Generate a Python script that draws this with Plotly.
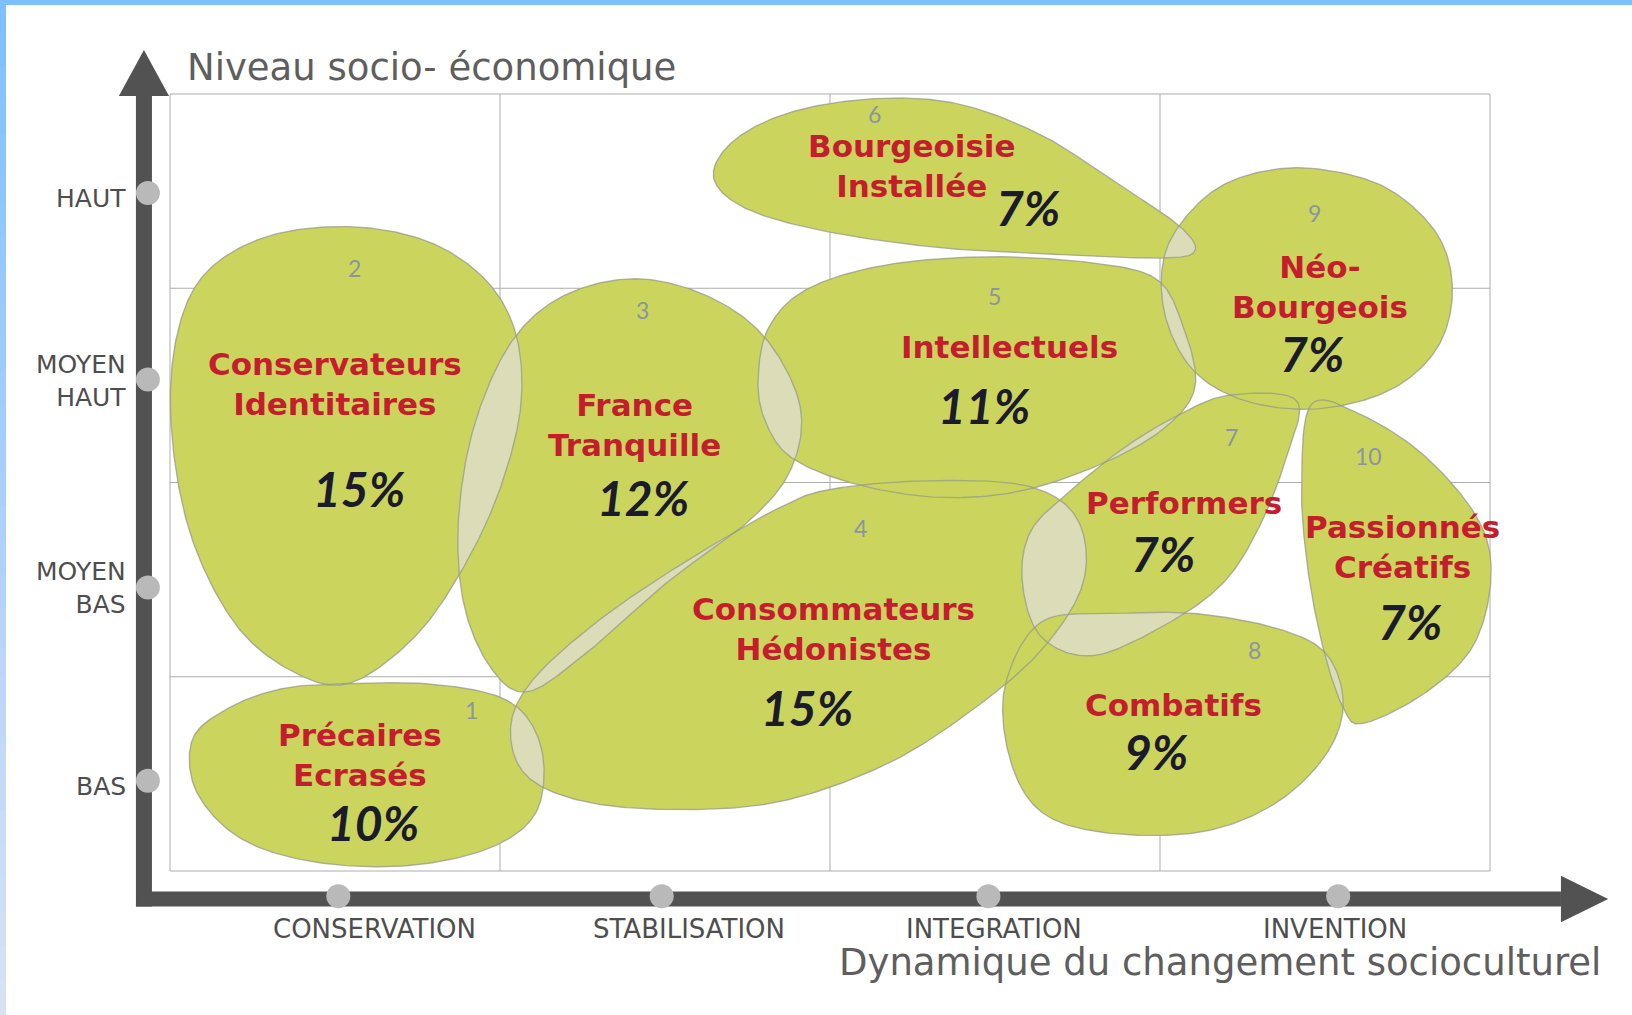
import numpy as np
import plotly.graph_objects as go

# ---------------- data ----------------
segment_ids = [1, 2, 3, 4, 5, 6, 7, 8, 9, 10]
segment_names = [
    "Précaires<br>Ecrasés",
    "Conservateurs<br>Identitaires",
    "France<br>Tranquille",
    "Consommateurs<br>Hédonistes",
    "Intellectuels",
    "Bourgeoisie<br>Installée",
    "Performers",
    "Combatifs",
    "Néo-<br>Bourgeois",
    "Passionnés<br>Créatifs",
]
segment_shares = [10, 15, 12, 15, 11, 7, 7, 9, 7, 7]
x_categories = ["CONSERVATION", "STABILISATION", "INTEGRATION", "INVENTION"]
y_categories = ["BAS", "MOYEN<br>BAS", "MOYEN<br>HAUT", "HAUT"]
x_title = "Dynamique du changement socioculturel"
y_title = "Niveau socio- économique"

# ---------------- geometry (grid units: 4 x 4 cells) ----------------
OUTLINES = {
    1: [(0.527, 0.964), (0.811, 0.959), (1.032, 0.868), (1.126, 0.627), (1.110, 0.305), (0.968, 0.118),
        (0.716, 0.027), (0.432, 0.048), (0.211, 0.171), (0.079, 0.413), (0.069, 0.681), (0.180, 0.841),
        (0.338, 0.938)],
    2: [(0.543, 3.317), (0.779, 3.242), (0.953, 3.049), (1.047, 2.771), (1.063, 2.396), (1.000, 1.967),
        (0.890, 1.565), (0.748, 1.217), (0.558, 0.975), (0.401, 1.002), (0.211, 1.243), (0.069, 1.699),
        (0.006, 2.235), (0.016, 2.717), (0.101, 3.065), (0.290, 3.264)],
    3: [(1.410, 3.049), (1.631, 2.958), (1.804, 2.744), (1.909, 2.395), (1.883, 2.074), (1.757, 1.806),
        (1.505, 1.484), (1.252, 1.109), (1.079, 0.922), (0.968, 1.056), (0.890, 1.377), (0.874, 1.806),
        (0.921, 2.288), (1.032, 2.717), (1.189, 2.958)],
    4: [(1.835, 1.860), (2.009, 1.967), (2.325, 2.010), (2.609, 1.977), (2.751, 1.806), (2.767, 1.484),
        (2.640, 1.136), (2.420, 0.815), (2.167, 0.547), (1.852, 0.359), (1.536, 0.316), (1.252, 0.359),
        (1.079, 0.493), (1.032, 0.734), (1.095, 0.975), (1.284, 1.270), (1.536, 1.565)],
    5: [(1.782, 2.529), (1.814, 2.797), (1.931, 2.996), (2.167, 3.119), (2.483, 3.162), (2.798, 3.130),
        (2.987, 3.049), (3.066, 2.824), (3.107, 2.503), (3.019, 2.288), (2.830, 2.101), (2.577, 1.956),
        (2.325, 1.924), (2.073, 1.994), (1.883, 2.128), (1.804, 2.315)],
    6: [(1.647, 3.574), (1.710, 3.762), (1.883, 3.907), (2.136, 3.976), (2.388, 3.949), (2.640, 3.789),
        (2.861, 3.548), (3.050, 3.333), (3.107, 3.199), (3.019, 3.156), (2.703, 3.173), (2.325, 3.210),
        (1.978, 3.296), (1.741, 3.414)],
    7: [(3.050, 2.342), (3.208, 2.449), (3.413, 2.422), (3.382, 2.128), (3.303, 1.779), (3.192, 1.484),
        (3.019, 1.270), (2.798, 1.109), (2.640, 1.206), (2.583, 1.484), (2.609, 1.752), (2.735, 1.967),
        (2.893, 2.181)],
    8: [(2.640, 1.281), (2.861, 1.324), (3.113, 1.324), (3.366, 1.243), (3.508, 1.109), (3.555, 0.841),
        (3.492, 0.573), (3.334, 0.332), (3.113, 0.198), (2.830, 0.198), (2.640, 0.305), (2.546, 0.573),
        (2.530, 0.949)],
    9: [(3.461, 3.617), (3.681, 3.521), (3.839, 3.280), (3.886, 2.985), (3.839, 2.690), (3.697, 2.476),
        (3.476, 2.379), (3.256, 2.422), (3.098, 2.583), (3.013, 2.878), (3.019, 3.199), (3.129, 3.457),
        (3.271, 3.585)],
    10: [(3.461, 2.406), (3.618, 2.342), (3.808, 2.128), (3.965, 1.806), (4.003, 1.511), (3.950, 1.163),
         (3.808, 0.922), (3.618, 0.761), (3.555, 0.841), (3.492, 1.163), (3.445, 1.592), (3.429, 2.020)],
}
# winding group: overlapping neighbours get opposite windings so overlaps show the lighter lens colour
WIND_CCW = {1, 3, 7, 9, 10}

NAME_POS = {1: (0.575, 0.595), 2: (0.500, 2.508), 3: (1.407, 2.294), 4: (2.012, 1.244), 5: (2.545, 2.696),
            6: (2.248, 3.628), 7: (3.072, 1.892), 8: (3.040, 0.857), 9: (3.484, 3.004), 10: (3.735, 1.670)}
SHARE_POS = {1: (0.615, 0.252), 2: (0.574, 1.967), 3: (1.432, 1.924), 4: (1.930, 0.841), 5: (2.466, 2.395),
             6: (2.599, 3.414), 7: (3.009, 1.634), 8: (2.987, 0.616), 9: (3.461, 2.663), 10: (3.759, 1.286)}
ID_POS = {1: (0.915, 0.830), 2: (0.558, 3.103), 3: (1.432, 2.889), 4: (2.091, 1.768), 5: (2.498, 2.958),
          6: (2.136, 3.895), 7: (3.217, 2.235), 8: (3.286, 1.136), 9: (3.467, 3.387), 10: (3.633, 2.138)}

X_LABEL_POS = [0.62, 1.573, 2.497, 3.53]
Y_LABEL_POS = [0.436, 1.455, 2.524, 3.463]
X_TICK_POS = [0.51, 1.49, 2.48, 3.54]
Y_TICK_POS = [0.465, 1.46, 2.53, 3.49]

GREEN = "#CBD55D"
LENS = "#DCDDB8"
RED = "#C41E2E"
DARK = "#1B1B2B"
GREY_NUM = "#8C94A0"
AXIS_COL = "#525252"
TICK_COL = "#B9B9B9"
GRID_COL = "#ADADAD"
FONT = "Lato"
FONT_W = "DejaVu Sans"


def smooth_closed(pts, n=24):
    P = np.array(pts, dtype=float)
    m = len(P)
    t = np.linspace(0, 1, n, endpoint=False)[:, None]
    segs = []
    for i in range(m):
        p0, p1, p2, p3 = P[(i - 1) % m], P[i], P[(i + 1) % m], P[(i + 2) % m]
        seg = 0.5 * (2 * p1 + (-p0 + p2) * t + (2 * p0 - 5 * p1 + 4 * p2 - p3) * t ** 2
                     + (-p0 + 3 * p1 - 3 * p2 + p3) * t ** 3)
        segs.append(seg)
    out = np.vstack(segs)
    return np.vstack([out, out[:1]])


def signed_area(c):
    x, y = c[:, 0], c[:, 1]
    return 0.5 * np.sum(x[:-1] * y[1:] - x[1:] * y[:-1])


curves = {}
for sid in segment_ids:
    c = smooth_closed(OUTLINES[sid])
    ccw = signed_area(c) > 0
    if (sid in WIND_CCW) != ccw:
        c = c[::-1]
    curves[sid] = c

fig = go.Figure()

# lens colour layer (visible only where blobs overlap)
for sid in segment_ids:
    c = curves[sid]
    fig.add_trace(go.Scatter(x=c[:, 0], y=c[:, 1], mode="lines", fill="toself", fillcolor=LENS,
                             line=dict(width=0, color="rgba(0,0,0,0)"), hoverinfo="skip"))

# main green layer, one path with alternating windings
xs, ys = [], []
for sid in segment_ids:
    c = curves[sid]
    xs += list(c[:, 0]) + [None]
    ys += list(c[:, 1]) + [None]
fig.add_trace(go.Scatter(x=xs, y=ys, mode="lines", fill="toself", fillcolor=GREEN,
                         line=dict(width=0, color="rgba(0,0,0,0)"), hoverinfo="skip"))
# outlines
fig.add_trace(go.Scatter(x=xs, y=ys, mode="lines", line=dict(width=1.4, color="rgba(150,150,140,0.7)"),
                         hoverinfo="skip"))

# axis tick bumps
fig.add_trace(go.Scatter(x=[-0.067] * 4, y=Y_TICK_POS, mode="markers",
                         marker=dict(size=24, color=TICK_COL), hoverinfo="skip"))
fig.add_trace(go.Scatter(x=X_TICK_POS, y=[-0.13] * 4, mode="markers",
                         marker=dict(size=24, color=TICK_COL), hoverinfo="skip"))

shapes = []
# grid
for v in range(5):
    shapes.append(dict(type="line", xref="x", yref="y", x0=v, x1=v, y0=0, y1=4,
                       line=dict(color=GRID_COL, width=1), layer="below"))
    shapes.append(dict(type="line", xref="x", yref="y", x0=0, x1=4, y0=v, y1=v,
                       line=dict(color=GRID_COL, width=1), layer="below"))
# axes arrows
VX, HY = -0.079, -0.144
shapes.append(dict(type="line", xref="x", yref="y", x0=VX, x1=VX, y0=HY - 0.039, y1=3.99,
                   line=dict(color=AXIS_COL, width=16), layer="below"))
shapes.append(dict(type="path", xref="x", yref="y",
                   path=f"M {VX-0.076},3.99 L {VX+0.076},3.99 L {VX},4.227 Z",
                   fillcolor=AXIS_COL, line=dict(width=0), layer="below"))
shapes.append(dict(type="line", xref="x", yref="y", x0=VX - 0.024, x1=4.215, y0=HY, y1=HY,
                   line=dict(color=AXIS_COL, width=15), layer="below"))
shapes.append(dict(type="path", xref="x", yref="y",
                   path=f"M 4.215,{HY+0.12} L 4.215,{HY-0.12} L 4.358,{HY} Z",
                   fillcolor=AXIS_COL, line=dict(width=0), layer="below"))
# blue frame
shapes.append(dict(type="rect", xref="paper", yref="paper", x0=0, x1=1, y0=1 - 5 / 1015, y1=1,
                   fillcolor="#80BFFF", line=dict(width=0)))
nb = 30
for i in range(nb):
    f = i / (nb - 1)
    r = int(128 + (215 - 128) * f)
    g = int(192 + (226 - 192) * f)
    b = int(255 + (245 - 255) * f)
    shapes.append(dict(type="rect", xref="paper", yref="paper", x0=0, x1=6 / 1632,
                       y0=1 - (i + 1) / nb, y1=1 - i / nb + 0.001,
                       fillcolor=f"rgb({r},{g},{b})", line=dict(width=0)))

ann = []
for sid, name, share in zip(segment_ids, segment_names, segment_shares):
    nx, ny = NAME_POS[sid]
    ann.append(dict(x=nx, y=ny, text=name, showarrow=False, xanchor="center", yanchor="middle",
                    align="center", font=dict(family=FONT_W, size=31, color=RED, weight="bold")))
    sx, sy = SHARE_POS[sid]
    ann.append(dict(x=sx, y=sy, text=f"{share}%", showarrow=False, xanchor="center", yanchor="middle",
                    font=dict(family=FONT, size=48, color=DARK, weight="bold", style="italic")))
    ix, iy = ID_POS[sid]
    ann.append(dict(x=ix, y=iy, text=str(sid), showarrow=False, xanchor="center", yanchor="middle",
                    font=dict(family=FONT, size=23, color=GREY_NUM)))

for lab, yp in zip(y_categories, Y_LABEL_POS):
    ann.append(dict(x=-0.128, y=yp, text=lab, showarrow=False, xanchor="right", yanchor="middle", align="right",
                    font=dict(family=FONT_W, size=25, color="#4E4E4E")))
for lab, xp in zip(x_categories, X_LABEL_POS):
    ann.append(dict(x=xp, y=-0.30, text=lab, showarrow=False, xanchor="center", yanchor="middle",
                    font=dict(family=FONT_W, size=26, color="#4E4E4E")))
ann.append(dict(x=0.045, y=4.135, text=y_title, showarrow=False, xanchor="left", yanchor="middle",
                font=dict(family=FONT_W, size=37, color="#5E5E5E")))
ann.append(dict(x=4.342, y=-0.472, text=x_title, showarrow=False, xanchor="right", yanchor="middle",
                font=dict(family=FONT_W, size=37, color="#5E5E5E")))

fig.update_layout(
    width=1632, height=1015, margin=dict(l=0, r=0, t=0, b=0),
    paper_bgcolor="white", plot_bgcolor="white", showlegend=False,
    xaxis=dict(range=[-0.5152, 4.4303], visible=False, fixedrange=True),
    yaxis=dict(range=[-0.7413, 4.4839], visible=False, fixedrange=True),
    shapes=shapes, annotations=ann,
)

fig.write_html("out.html", config={"displayModeBar": False},
               post_script="document.body.style.margin='0px';document.body.style.padding='0px';")
